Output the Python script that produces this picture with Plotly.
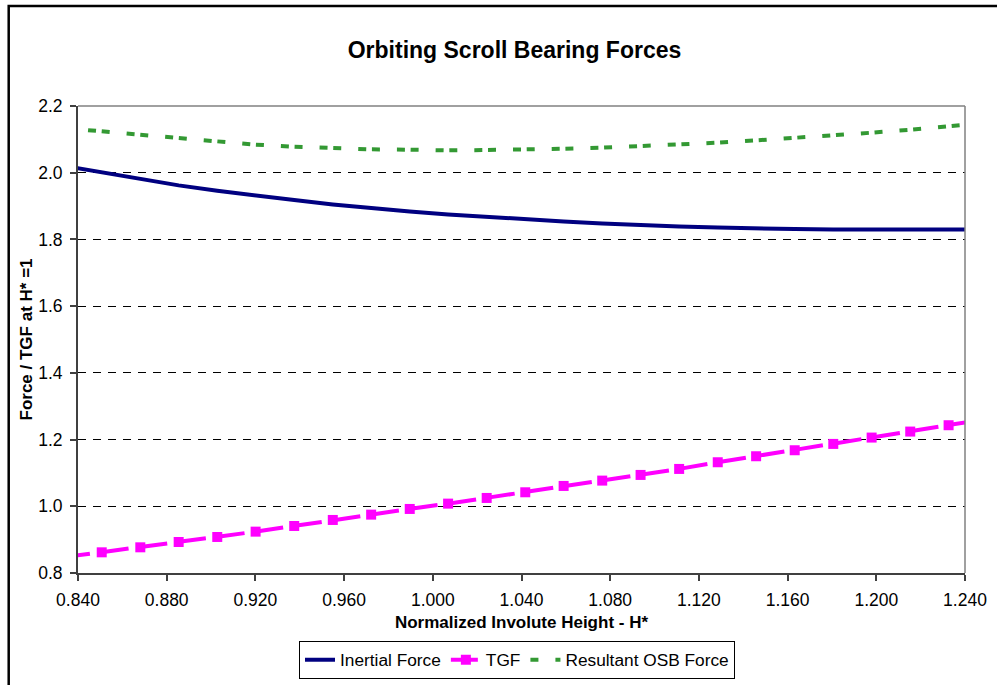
import plotly.graph_objects as go

# Data
H_STAR = [0.8333, 0.8507, 0.8681, 0.8854, 0.9028, 0.9201, 0.9375, 0.9549, 0.9722, 0.9896,
          1.0069, 1.0243, 1.0417, 1.0590, 1.0764, 1.0937, 1.1111, 1.1285, 1.1458, 1.1632,
          1.1806, 1.1979, 1.2153, 1.2326, 1.2500]

INERTIAL = [2.021, 2.001, 1.981, 1.962, 1.946, 1.931, 1.918, 1.905, 1.894, 1.884,
            1.875, 1.867, 1.861, 1.854, 1.848, 1.843, 1.839, 1.836, 1.833, 1.831,
            1.830, 1.830, 1.830, 1.830, 1.830]

TGF = [0.847, 0.862, 0.877, 0.893, 0.908, 0.924, 0.941, 0.959, 0.975, 0.992,
       1.008, 1.025, 1.042, 1.061, 1.077, 1.094, 1.112, 1.132, 1.150, 1.168,
       1.187, 1.206, 1.224, 1.243, 1.262]

RESULTANT = [2.134, 2.124, 2.112, 2.102, 2.092, 2.084, 2.078, 2.073, 2.070, 2.069,
             2.067, 2.068, 2.069, 2.072, 2.075, 2.079, 2.084, 2.090, 2.097, 2.104,
             2.111, 2.120, 2.129, 2.139, 2.150]

SERIES_NAMES = ["Inertial Force", "TGF", "Resultant OSB Force"]
X_TICKS = [0.84, 0.88, 0.92, 0.96, 1.00, 1.04, 1.08, 1.12, 1.16, 1.20, 1.24]
Y_TICKS = [0.8, 1.0, 1.2, 1.4, 1.6, 1.8, 2.0, 2.2]

FONT = "Liberation Sans, Arial, Helvetica, sans-serif"

W, H = 997, 685
ML, MR, MT, MB = 78, 32, 106, 112
PW = W - ML - MR
PH = H - MT - MB


def px_to_paper_x(px):
    return (px - ML) / PW


def px_to_paper_y(py):
    return (H - MB - py) / PH


fig = go.Figure()

fig.add_trace(go.Scatter(
    x=H_STAR, y=INERTIAL, name=SERIES_NAMES[0], mode="lines",
    line=dict(color="#000080", width=4),
))
fig.add_trace(go.Scatter(
    x=H_STAR, y=TGF, name=SERIES_NAMES[1], mode="lines+markers",
    line=dict(color="#FF00FF", width=4, dash="27px,12px"),
    marker=dict(symbol="square", size=10, color="#FF00FF", line=dict(width=0)),
))
fig.add_trace(go.Scatter(
    x=H_STAR, y=RESULTANT, name=SERIES_NAMES[2], mode="lines",
    line=dict(color="#339933", width=4, dash="8px,17px,8px,5.7px"),
))

fig.update_layout(
    width=W, height=H,
    margin=dict(l=ML, r=MR, t=MT, b=MB, pad=0, autoexpand=False),
    paper_bgcolor="white", plot_bgcolor="white",
    font=dict(family=FONT, color="black", size=17),
    title=dict(
        text="<b>Orbiting Scroll Bearing Forces</b>",
        font=dict(family=FONT, size=23, color="black"),
        x=px_to_paper_x(514.5), xref="paper", xanchor="center",
        y=1 - 49.5 / H, yref="container", yanchor="middle",
    ),
    showlegend=True,
    legend=dict(
        orientation="h",
        x=px_to_paper_x(517), xanchor="center",
        y=px_to_paper_y(641), yanchor="top",
        bordercolor="black", borderwidth=1, bgcolor="white",
        font=dict(family=FONT, size=17.3, color="black"),
        traceorder="normal", itemwidth=30,
    ),
    xaxis=dict(
        range=[0.84, 1.24], tickvals=X_TICKS, tickformat=".3f",
        showgrid=False, zeroline=False, automargin=False,
        showline=True, linecolor="#404040", linewidth=2,
        ticks="outside", ticklen=6, tickwidth=1.5, tickcolor="#404040",
        tickfont=dict(family=FONT, size=17.5, color="black"),
        ticklabelstandoff=4,
        title=dict(text="<b>Normalized Involute Height - H*</b>",
                   font=dict(family=FONT, size=17, color="black"), standoff=7),
    ),
    yaxis=dict(
        range=[0.8, 2.2], tickvals=Y_TICKS, tickformat=".1f",
        showgrid=True, gridcolor="black", gridwidth=1, griddash="8px,7px",
        zeroline=False, automargin=False,
        showline=True, linecolor="#404040", linewidth=2,
        ticks="outside", ticklen=6, tickwidth=1.5, tickcolor="#404040",
        tickfont=dict(family=FONT, size=17.5, color="black"),
        ticklabelstandoff=4,
        title=dict(text="<b>Force / TGF at H* =1</b>",
                   font=dict(family=FONT, size=17, color="black"), standoff=1),
    ),
    shapes=[
        # plot area border (top/right gray)
        dict(type="line", xref="paper", yref="paper", x0=0, x1=1, y0=1, y1=1,
             line=dict(color="#808080", width=1.5), layer="above"),
        dict(type="line", xref="paper", yref="paper", x0=1, x1=1, y0=0, y1=1,
             line=dict(color="#808080", width=1.5), layer="above"),
        # chart outer border (top/left visible)
        dict(type="rect", xref="paper", yref="paper",
             x0=px_to_paper_x(8.7), x1=1.2, y0=px_to_paper_y(6), y1=-0.4,
             line=dict(color="black", width=2.5), fillcolor="rgba(0,0,0,0)",
             layer="above"),
    ],
)

fig.write_html("out.html")
